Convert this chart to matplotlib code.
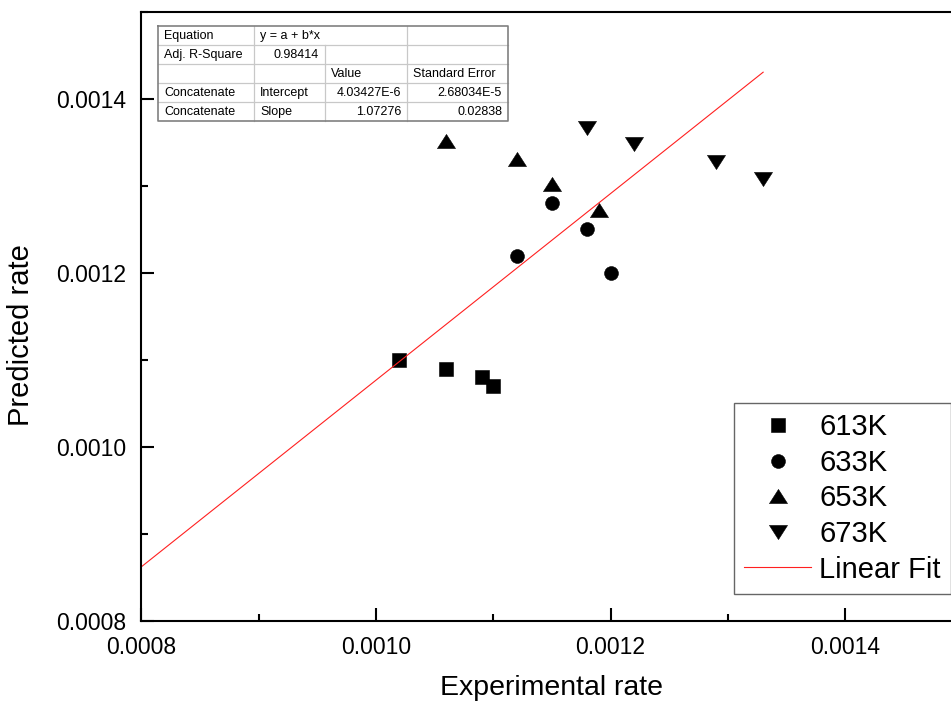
import matplotlib
matplotlib.use('Agg')
import matplotlib.pyplot as plt
import numpy as np
from matplotlib.ticker import MultipleLocator, FormatStrFormatter

plt.rcParams['font.family'] = ['Liberation Sans', 'DejaVu Sans']

# ---------------- data ----------------
series_labels = ['613K', '633K', '653K', '673K']
exp_613 = [0.00102, 0.00106, 0.00109, 0.00110]
pred_613 = [0.00110, 0.00109, 0.00108, 0.00107]
exp_633 = [0.00112, 0.00115, 0.00118, 0.00120]
pred_633 = [0.00122, 0.00128, 0.00125, 0.00120]
exp_653 = [0.00106, 0.00112, 0.00115, 0.00119]
pred_653 = [0.001352, 0.001331, 0.001302, 0.001272]
exp_673 = [0.00118, 0.00122, 0.00129, 0.00133]
pred_673 = [0.001367, 0.001348, 0.001328, 0.001308]

fit_label = 'Linear Fit'
fit_intercept = 4.03427e-6
fit_slope = 1.07276
fit_x_range = [0.0008, 0.00133]

x_ticks = [0.0008, 0.0010, 0.0012, 0.0014]
y_ticks = [0.0008, 0.0010, 0.0012, 0.0014]

table_col0 = ['Equation', 'Adj. R-Square', '', 'Concatenate', 'Concatenate']
table_col1 = ['y = a + b*x', '0.98414', '', 'Intercept', 'Slope']
table_col2 = ['', '', 'Value', '4.03427E-6', '1.07276']
table_col3 = ['', '', 'Standard Error', '2.68034E-5', '0.02838']
table_col1_align = ['left', 'right', 'left', 'left', 'left']
table_col2_align = ['left', 'left', 'left', 'right', 'right']
table_col3_align = ['left', 'left', 'left', 'right', 'right']

# ---------------- figure ----------------
W, H = 951, 704
fig = plt.figure(figsize=(W / 100, H / 100), dpi=100)
fig.patch.set_facecolor('white')

ax_l, ax_r, ax_t, ax_b = 141.3, 962.6, 12.0, 621.0
ax = fig.add_axes([ax_l / W, 1 - ax_b / H, (ax_r - ax_l) / W, (ax_b - ax_t) / H])

tri_up = [(-1, -0.78), (1, -0.78), (0, 0.78), (-1, -0.78)]
tri_dn = [(-1, 0.78), (1, 0.78), (0, -0.78), (-1, 0.78)]

ax.plot(exp_613, pred_613, linestyle='none', marker='s', markersize=9.5,
        color='black', markeredgewidth=0.4, label=series_labels[0])
ax.plot(exp_633, pred_633, linestyle='none', marker='o', markersize=10,
        color='black', markeredgewidth=0.4, label=series_labels[1])
ax.plot(exp_653, pred_653, linestyle='none', marker=tri_up, markersize=13,
        color='black', markeredgewidth=0.4, label=series_labels[2])
ax.plot(exp_673, pred_673, linestyle='none', marker=tri_dn, markersize=13,
        color='black', markeredgewidth=0.4, label=series_labels[3])

fx = np.array(fit_x_range)
ax.plot(fx, fit_intercept + fit_slope * fx, color='#ff2020', linewidth=0.8,
        label=fit_label)

ax.set_xlim(0.0008, 0.0015)
ax.set_ylim(0.0008, 0.0015)
ax.set_xticks(x_ticks)
ax.set_yticks(y_ticks)
ax.xaxis.set_minor_locator(MultipleLocator(0.0001))
ax.yaxis.set_minor_locator(MultipleLocator(0.0001))
ax.xaxis.set_major_formatter(FormatStrFormatter('%.4f'))
ax.yaxis.set_major_formatter(FormatStrFormatter('%.4f'))
ax.tick_params(which='both', direction='in', top=False, right=False,
               width=1.5, labelsize=16.5, pad=11)
ax.tick_params(which='major', length=9.5)
ax.tick_params(which='minor', length=5)
for s in ['left', 'bottom', 'top', 'right']:
    ax.spines[s].set_linewidth(1.5)

ax.set_xlabel('Experimental rate', fontsize=20.5)
ax.set_ylabel('Predicted rate', fontsize=21)
ax.xaxis.set_label_coords(0.5, (ax_b - 675) / (ax_b - ax_t))
ax.yaxis.set_label_coords((35 - ax_l) / (ax_r - ax_l), (ax_b - 335) / (ax_b - ax_t))

leg = ax.legend(loc='upper left', bbox_to_anchor=(734 / W, 1 - 403 / H),
                bbox_transform=fig.transFigure, fontsize=21, frameon=True,
                fancybox=False, edgecolor='#404040', borderaxespad=0,
                handlelength=2.3, handletextpad=0.27, labelspacing=0.26,
                borderpad=0.35, markerscale=1.0)
leg.get_frame().set_linewidth(1.0)

# ---------------- parameter table ----------------
tab = fig.add_axes([0, 0, 1, 1])
tab.set_xlim(0, W)
tab.set_ylim(H, 0)
tab.axis('off')

cols_x = [158, 254, 325, 407, 508]
rows_y = [26, 45, 64, 83, 102, 121]
tab.fill_between([cols_x[0], cols_x[-1]], rows_y[0], rows_y[-1], color='white', zorder=1)
light = '#c8c8c8'
for y in rows_y[1:-1]:
    tab.plot([cols_x[0], cols_x[-1]], [y, y], color=light, lw=0.9, zorder=2)
tab.plot([cols_x[1], cols_x[1]], [rows_y[0], rows_y[-1]], color=light, lw=0.9, zorder=2)
tab.plot([cols_x[2], cols_x[2]], [rows_y[1], rows_y[-1]], color=light, lw=0.9, zorder=2)
tab.plot([cols_x[3], cols_x[3]], [rows_y[0], rows_y[-1]], color=light, lw=0.9, zorder=2)
tab.plot([cols_x[0], cols_x[-1], cols_x[-1], cols_x[0], cols_x[0]],
         [rows_y[0], rows_y[0], rows_y[-1], rows_y[-1], rows_y[0]],
         color='#808080', lw=1.2, zorder=3)

fs = 9
pad = 6
for i in range(5):
    yc = (rows_y[i] + rows_y[i + 1]) / 2 + 0.5
    cols = [(table_col0[i], 'left'), (table_col1[i], table_col1_align[i]),
            (table_col2[i], table_col2_align[i]), (table_col3[i], table_col3_align[i])]
    for j, (txt, al) in enumerate(cols):
        if not txt:
            continue
        x = cols_x[j] + pad if al == 'left' else cols_x[j + 1] - pad
        tab.text(x, yc, txt, ha=al, va='center', fontsize=fs, zorder=4)

fig.savefig('out.png', dpi=100, facecolor='white')
